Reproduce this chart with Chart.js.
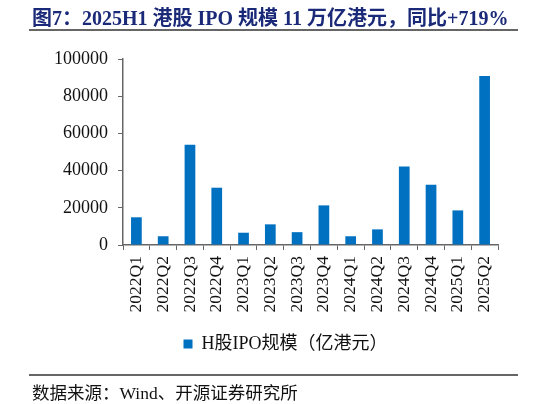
<!DOCTYPE html>
<html>
<head>
<meta charset="utf-8">
<script src="https://cdn.jsdelivr.net/npm/chart.js@4.4.1/dist/chart.umd.min.js"></script>
<style>
  html, body { margin: 0; padding: 0; background: #fff; }
  #wrap { position: relative; width: 546px; height: 404px; overflow: hidden; }
  #title {
    position: absolute; left: 32px; top: 2px;
    font: bold 20px "Liberation Serif", "Noto Sans CJK SC", serif;
    color: #1b2a78; white-space: nowrap;
  }
  .rule { position: absolute; left: 29px; width: 489px; height: 0; border-top: 2px solid #666; }
  #source {
    position: absolute; left: 32px; top: 379px;
    font: 17.5px "Liberation Serif", "Noto Sans CJK SC", serif;
    color: #111; white-space: nowrap;
  }
  #c { position: absolute; left: 0; top: 0; }
</style>
</head>
<body>
<div id="wrap">
  <canvas id="c" width="546" height="404"></canvas>
  <div id="title">图7：2025H1 港股 IPO 规模 11 万亿港元，同比+719%</div>
  <div class="rule" style="top:29px"></div>
  <div class="rule" style="top:374px"></div>
  <div id="source">数据来源：Wind、开源证券研究所</div>
</div>
<script>
const quarters = ["2022Q1", "2022Q2", "2022Q3", "2022Q4", "2023Q1", "2023Q2", "2023Q3",
                  "2023Q4", "2024Q1", "2024Q2", "2024Q3", "2024Q4", "2025Q1", "2025Q2"];
const ipoSize = [14900, 4700, 53900, 30800, 6600, 11100, 6900,
                 21300, 4700, 8400, 42200, 32400, 18600, 90900];
const seriesName = "H股IPO规模（亿港元）";
const yTicks = [0, 20000, 40000, 60000, 80000, 100000];

const serif = '"Liberation Serif", "Noto Sans CJK SC", serif';

// nudge the legend a little to the right, like in the source image
const legendShift = {
    id: 'legendShift',
    beforeDraw(chart) {
        chart.legend.left += 14;
        chart.legend.right += 14;
    },
    afterDraw(chart) {
        chart.legend.left -= 14;
        chart.legend.right -= 14;
    }
};

function drawChart() {
    const ctx = document.getElementById("c").getContext("2d");

    new Chart(ctx, {
        type: 'bar',
        data: {
            labels: quarters,
            datasets: [{
                label: seriesName,
                data: ipoSize,
                backgroundColor: '#0070C0',
                barPercentage: 0.4,
                categoryPercentage: 1
            }]
        },
        options: {
            responsive: false,
            animation: false,
            layout: { padding: { top: 59, bottom: 41, left: 45, right: 48 } },
            scales: {
                x: {
                    grid: { offset: true, drawOnChartArea: false, tickLength: 5, color: '#666' },
                    border: { color: '#666', width: 1.5 },
                    ticks: { font: { family: serif, size: 17.5 }, color: '#111', minRotation: 90, maxRotation: 90, padding: 6 },
                    afterFit: s => { s.height = 80; }
                },
                y: {
                    min: 0,
                    max: yTicks[yTicks.length - 1],
                    afterBuildTicks: s => { s.ticks = yTicks.map(v => ({ value: v })); },
                    grid: { drawOnChartArea: false, tickLength: 5, color: '#666' },
                    border: { color: '#666', width: 1.5 },
                    ticks: { font: { family: serif, size: 18 }, color: '#111', padding: 10, callback: v => String(v) },
                    afterFit: s => { s.width = 78; }
                }
            },
            plugins: {
                legend: {
                    position: 'bottom',
                    labels: { font: { family: serif, size: 18 }, color: '#111', boxWidth: 9, boxHeight: 9, padding: 10 }
                },
                tooltip: { enabled: false }
            }
        },
        plugins: [legendShift]
    });
}

document.addEventListener("DOMContentLoaded", () => drawChart());
</script>
</body>
</html>
